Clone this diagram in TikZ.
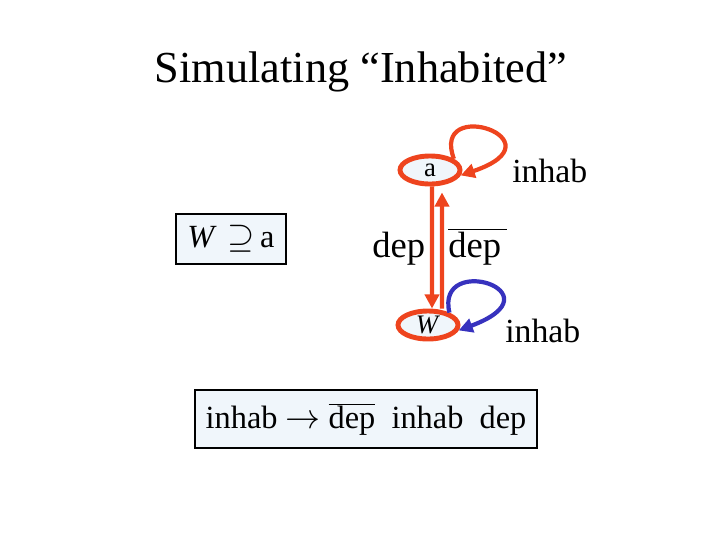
\documentclass[tikz,border=0pt]{standalone}
\usepackage{fontspec}
\setmainfont{Liberation Serif}
\usetikzlibrary{shapes.geometric,arrows.meta}
\definecolor{loopred}{RGB}{238,68,30}
\definecolor{loopblue}{RGB}{55,50,190}
\definecolor{palefill}{RGB}{240,246,251}
\tikzset{
  state/.style={ellipse, draw=loopred, line width=3.5pt, fill=palefill,
    minimum width=1.5cm, minimum height=0.7cm, inner sep=0pt,
    font=\fontsize{19}{22}\selectfont},
  edge/.style={draw=loopred, line width=3pt, -{Triangle[width=10pt,length=10pt]}},
  blueedge/.style={edge, draw=loopblue},
  lbl/.style={anchor=base west, inner sep=0pt},
  rulebox/.style={draw, line width=0.8pt, fill=palefill, inner sep=0pt,
    font=\fontsize{23}{27}\selectfont}
}
\begin{document}
\begin{tikzpicture}[x=0.025cm, y=-0.025cm]
    \useasboundingbox (0,0) rectangle (720,540);

    % Title
    \node[anchor=base, inner sep=0pt, font=\fontsize{31.5}{36}\selectfont] (title) at (361,82) {Simulating “Inhabited”};

    % States
    \node[state] (a) at (430,170) {a};
    \node[state] (W) at (428,325) {\textit{W}};

    % Transitions between a and W
    \draw[edge] ([xshift=0.05cm]a.south) -- ([xshift=0.1cm]W.north);
    \draw[edge] ([xshift=0.35cm]W.north) -- ([xshift=0.3cm,yshift=-0.15cm]a.south);

    % Self loops
    \draw[edge] (a.25) .. controls (430,95) and (565,140) .. (a.-10);
    \draw[blueedge] (W.30) .. controls (435,252) and (562,292) .. (W.-10);

    % Labels
    \node[lbl, font=\fontsize{24}{28}\selectfont] (inhabA) at (512,182) {inhab};
    \node[lbl, font=\fontsize{24}{28}\selectfont] (inhabW) at (505,342) {inhab};
    \node[lbl, font=\fontsize{26}{30}\selectfont] (dep) at (372,257) {dep};
    \node[lbl, font=\fontsize{26}{30}\selectfont] (depbar) at (448,257) {$\overline{\mbox{dep\,}}$};

    % Boxes
    \node[rulebox, minimum width=2.75cm, minimum height=1.25cm] (sub) at (231,239)
      {\textit{W}\,\,$\supseteq$\,a};
    \node[rulebox, minimum width=8.55cm, minimum height=1.45cm] (rule) at (366,419)
      {inhab $\rightarrow$ $\overline{\mbox{dep}}$\ \ inhab\ \ dep};
\end{tikzpicture}
\end{document}
